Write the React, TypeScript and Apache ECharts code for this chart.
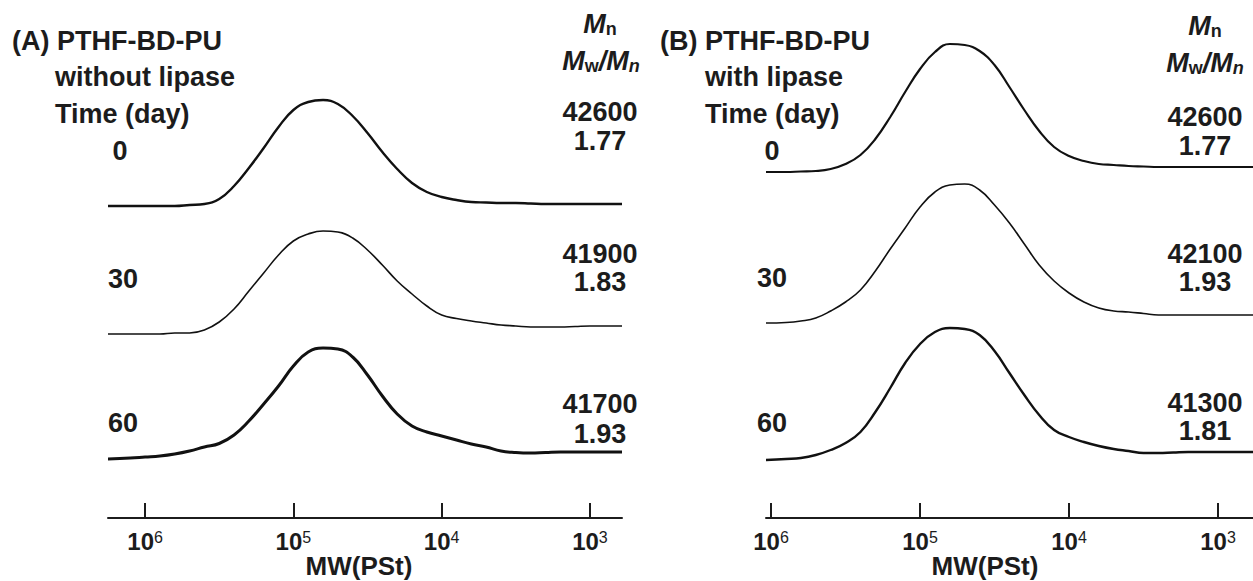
import React, { useEffect, useRef } from "react";
import * as echarts from "echarts";

// Tick positions (log10 MW)
const TICK_LOG_MW = [6, 5, 4, 3];
const DAYS = ["0", "30", "60"];
const MN_A = ["42600", "41900", "41700"];
const PDI_A = ["1.77", "1.83", "1.93"];
const MN_B = ["42600", "42100", "41300"];
const PDI_B = ["1.77", "1.93", "1.81"];
// vertical offsets of the stacked traces (a.u.)
const OFFSET_A = [3.12, 1.84, 0.59];
const OFFSET_B = [3.46, 1.95, 0.58];

// Panel A: without lipase (x = log10 MW)
const A_X = [6.25, 6.1, 6.0, 5.9, 5.8, 5.7, 5.6, 5.5, 5.4, 5.3, 5.2, 5.1, 5.0, 4.9, 4.8, 4.7, 4.6, 4.5, 4.4, 4.3, 4.2, 4.1, 4.0, 3.9, 3.8, 3.7, 3.6, 3.5, 3.4, 3.3, 3.2, 3.1, 3.0, 2.9, 2.784];
const A0_S = [0, 0, 0, 0, 0, 0.01, 0.02, 0.07, 0.2, 0.38, 0.58, 0.79, 0.96, 1.04, 1.06, 1.02, 0.9, 0.73, 0.54, 0.37, 0.23, 0.14, 0.09, 0.06, 0.04, 0.035, 0.03, 0.03, 0.025, 0.02, 0.02, 0.02, 0.02, 0.02, 0.02];
const A30_S = [0, 0, 0, 0, 0.01, 0.01, 0.04, 0.12, 0.25, 0.43, 0.61, 0.79, 0.93, 1.0, 1.03, 1.02, 0.96, 0.84, 0.69, 0.53, 0.4, 0.28, 0.19, 0.155, 0.13, 0.11, 0.09, 0.08, 0.07, 0.07, 0.07, 0.075, 0.08, 0.08, 0.08];
const A60_S = [0, 0.01, 0.02, 0.03, 0.05, 0.08, 0.12, 0.155, 0.24, 0.38, 0.55, 0.73, 0.93, 1.07, 1.11, 1.1, 1.02, 0.84, 0.63, 0.45, 0.33, 0.27, 0.23, 0.19, 0.15, 0.12, 0.08, 0.065, 0.06, 0.065, 0.07, 0.07, 0.07, 0.07, 0.07];

// Panel B: with lipase (x = log10 MW)
const B_X = [6.034, 5.9, 5.8, 5.7, 5.6, 5.5, 5.4, 5.3, 5.2, 5.1, 5.0, 4.9, 4.8, 4.7, 4.6, 4.5, 4.4, 4.3, 4.2, 4.1, 4.0, 3.9, 3.8, 3.7, 3.6, 3.5, 3.4, 3.3, 3.2, 3.1, 3.0, 2.9, 2.765];
const B0_S = [0, 0, 0.005, 0.01, 0.03, 0.08, 0.17, 0.33, 0.55, 0.8, 1.03, 1.2, 1.28, 1.27, 1.21, 1.07, 0.85, 0.62, 0.41, 0.25, 0.16, 0.11, 0.08, 0.07, 0.06, 0.055, 0.05, 0.05, 0.05, 0.05, 0.05, 0.05, 0.05];
const B30_S = [0, 0.005, 0.02, 0.05, 0.12, 0.21, 0.33, 0.52, 0.74, 0.95, 1.16, 1.31, 1.38, 1.39, 1.33, 1.18, 1.0, 0.79, 0.58, 0.42, 0.3, 0.21, 0.15, 0.12, 0.11, 0.095, 0.08, 0.08, 0.08, 0.08, 0.08, 0.08, 0.08];
const B60_S = [0, 0.01, 0.02, 0.05, 0.1, 0.17, 0.28, 0.48, 0.72, 0.97, 1.16, 1.28, 1.32, 1.31, 1.25, 1.09, 0.87, 0.65, 0.45, 0.3, 0.23, 0.18, 0.14, 0.11, 0.09, 0.07, 0.07, 0.075, 0.08, 0.08, 0.08, 0.08, 0.08];

const FONT = "'Liberation Sans', Arial, sans-serif";
const INK = "#1c1c1c";

function build(xs: number[], ss: number[], off: number) {
  return xs.map((x, i) => [x, ss[i] + off]);
}

function xAxis(gridIndex: number, min: number, max: number) {
  return {
    type: "value",
    gridIndex,
    inverse: true,
    min,
    max,
    axisLine: { show: true, onZero: false, lineStyle: { color: INK, width: 2 } },
    axisTick: {
      show: true,
      inside: true,
      length: 15,
      customValues: TICK_LOG_MW,
      lineStyle: { color: INK, width: 2 },
    },
    axisLabel: {
      show: true,
      customValues: TICK_LOG_MW,
      margin: 11,
      formatter: (v: number) => `{b|10}{s|${Math.round(v)}}`,
      rich: {
        b: { fontFamily: FONT, fontWeight: "bold", fontSize: 24, color: INK, lineHeight: 25 },
        s: { fontFamily: FONT, fontWeight: "normal", fontSize: 16, color: INK, verticalAlign: "top", lineHeight: 16 },
      },
    },
    splitLine: { show: false },
  };
}

function yAxis(gridIndex: number) {
  return { type: "value", gridIndex, min: 0, max: 4.88, show: false };
}

function txt(text: string, x: number, y: number, align = "center", size = 27) {
  return {
    type: "text",
    x,
    y,
    style: {
      text,
      fontFamily: FONT,
      fontWeight: "bold",
      fontSize: size,
      fill: INK,
      align,
      verticalAlign: "middle",
    },
  };
}

function richTxt(text: string, x: number, y: number) {
  return {
    type: "text",
    x,
    y,
    style: {
      text,
      fill: INK,
      align: "center",
      verticalAlign: "middle",
      rich: {
        i: { fontFamily: FONT, fontWeight: "bold", fontStyle: "italic", fontSize: 27, fill: INK, lineHeight: 27 },
        r: { fontFamily: FONT, fontWeight: "bold", fontStyle: "italic", fontSize: 27, fill: INK, lineHeight: 27 },
        sub: { fontFamily: FONT, fontWeight: "bold", fontSize: 18, fill: INK, lineHeight: 18, verticalAlign: "bottom" },
        subi: { fontFamily: FONT, fontWeight: "bold", fontStyle: "italic", fontSize: 18, fill: INK, lineHeight: 18, verticalAlign: "bottom" },
      },
    },
  };
}

export default function App() {
  const ref = useRef<HTMLDivElement>(null);
  useEffect(() => {
    if (!ref.current) return;
    const chart = echarts.init(ref.current, null, { renderer: "svg" });
    const line = (data: number[][], idx: number, w: number) => ({
      type: "line",
      xAxisIndex: idx,
      yAxisIndex: idx,
      data,
      smooth: 0.45,
      showSymbol: false,
      lineStyle: { color: "#111", width: w },
      silent: true,
    });
    const dayY_A = [151, 279, 423];
    const dayY_B = [151, 278, 423];
    const mnY_A = [112, 254, 404];
    const pdiY_A = [141, 282, 434];
    const mnY_B = [117, 254, 403];
    const pdiY_B = [146, 282, 431];
    const graphics: any[] = [
      txt("(A) PTHF-BD-PU", 12, 41, "left"),
      txt("without lipase", 55, 77, "left"),
      txt("Time (day)", 55, 114, "left"),
      txt("(B) PTHF-BD-PU", 660, 41, "left"),
      txt("with lipase", 705, 77, "left"),
      txt("Time (day)", 705, 114, "left"),
      richTxt("{i|M}{sub|n}", 600, 24),
      richTxt("{i|M}{sub|w}{r|/}{i|M}{subi|n}", 601, 61),
      richTxt("{i|M}{sub|n}", 1205, 26),
      richTxt("{i|M}{sub|w}{r|/}{i|M}{subi|n}", 1205, 63),
      txt("MW(PSt)", 359, 566, "center", 26),
      txt("MW(PSt)", 985, 566, "center", 26),
    ];
    DAYS.forEach((d, i) => {
      graphics.push(txt(d, d === "0" ? 120 : 123, dayY_A[i]));
      graphics.push(txt(d, 772, dayY_B[i]));
      graphics.push(txt(MN_A[i], 600, mnY_A[i]));
      graphics.push(txt(PDI_A[i], 600, pdiY_A[i]));
      graphics.push(txt(MN_B[i], 1205, mnY_B[i]));
      graphics.push(txt(PDI_B[i], 1205, pdiY_B[i]));
    });
    chart.setOption({
      animation: false,
      backgroundColor: "#ffffff",
      grid: [
        { left: 108, top: 30, width: 514, height: 488 },
        { left: 766, top: 30, width: 487, height: 488 },
      ],
      xAxis: [xAxis(0, 2.784, 6.25), xAxis(1, 2.765, 6.034)],
      yAxis: [yAxis(0), yAxis(1)],
      series: [
        line(build(A_X, A0_S, OFFSET_A[0]), 0, 2.4),
        line(build(A_X, A30_S, OFFSET_A[1]), 0, 1.6),
        line(build(A_X, A60_S, OFFSET_A[2]), 0, 3),
        line(build(B_X, B0_S, OFFSET_B[0]), 1, 2.2),
        line(build(B_X, B30_S, OFFSET_B[1]), 1, 1.6),
        line(build(B_X, B60_S, OFFSET_B[2]), 1, 2.4),
      ],
      graphic: graphics,
    });
    return () => chart.dispose();
  }, []);
  return (
    <div
      ref={ref}
      style={{ position: "fixed", left: 0, top: 0, width: 1253, height: 581, background: "#fff" }}
    />
  );
}
